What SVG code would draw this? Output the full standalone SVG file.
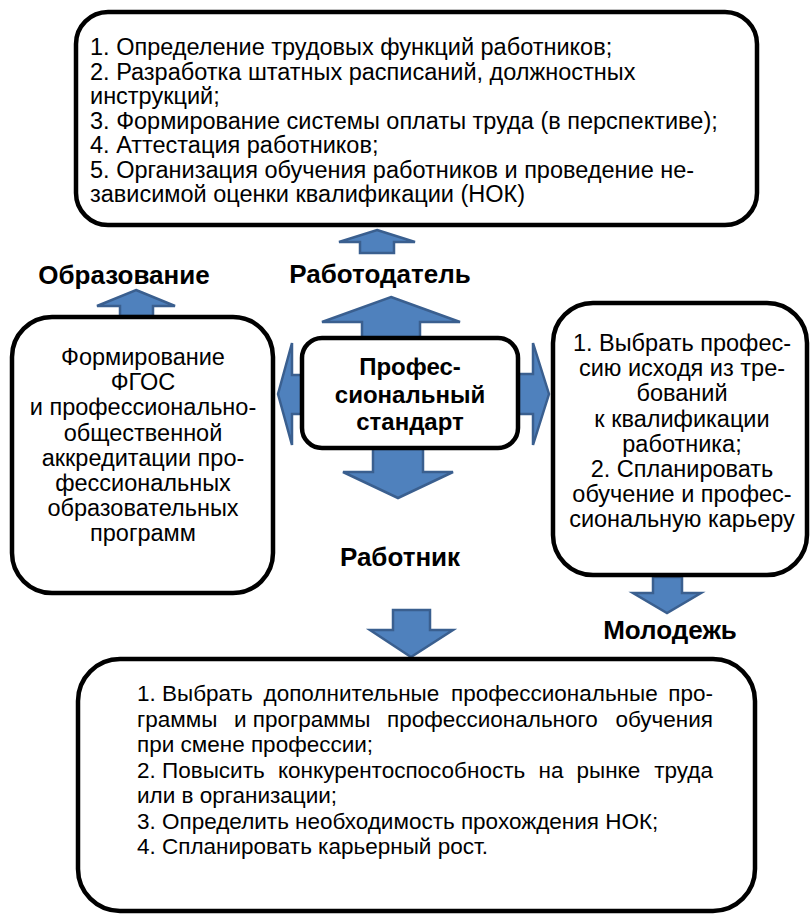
<svg xmlns="http://www.w3.org/2000/svg" width="811" height="916" viewBox="0 0 811 916">
<style>
.box{fill:#fff;stroke:#000;stroke-width:4.5}
.arr{fill:#4F81BD;stroke:#3A5F8F;stroke-width:2.5;stroke-linejoin:miter}
text{font-family:"Liberation Sans",Arial,sans-serif;fill:#000}
.t{font-size:23.5px}
.tb{font-size:22.5px}
.c{text-anchor:middle}
.e{text-anchor:end}
.lbl{font-size:26px;font-weight:bold;text-anchor:middle}
.ctr{font-size:24px;font-weight:bold;text-anchor:middle}
</style>
<rect width="811" height="916" fill="#fff"/>
<g id="connectors">
<polygon class="arr" points="377,230 415,242 394,242 394,253 360,253 360,242 339,242"/>
<polygon class="arr" points="136,290 175,306 153,306 153,316 120,316 120,306 97,306"/>
<polygon class="arr" points="391,297 460,322 420,322 420,338 362,338 362,322 322,322"/>
<polygon class="arr" points="373,448 423,448 423,472 453,472 398,498 343,472 373,472"/>
<polygon class="arr" points="278,394 292,343 292,375 302,375 302,414 292,414 292,445"/>
<polygon class="arr" points="549,394 533,343 533,374 518,374 518,414 533,414 533,445"/>
<polygon class="arr" points="393,610 430,610 430,630 453,630 411,657 370,630 393,630"/>
<polygon class="arr" points="653,577 682,577 682,593 701,593 667,613 633,593 653,593"/>
</g>
<g id="employer-tasks">
<rect class="box" x="76" y="12" width="681" height="213" rx="32"/>
<text class="t" x="90" y="55">1. Определение трудовых функций работников;</text>
<text class="t" x="90" y="79.5">2. Разработка штатных расписаний, должностных</text>
<text class="t" x="90" y="104">инструкций;</text>
<text class="t" x="90" y="128.5">3. Формирование системы оплаты труда (в перспективе);</text>
<text class="t" x="90" y="153">4. Аттестация работников;</text>
<text class="t" x="90" y="177.5">5. Организация обучения работников и проведение не-</text>
<text class="t" x="90" y="202">зависимой оценки квалификации (НОК)</text>
</g>
<g id="label-education"><text class="lbl" x="124" y="284">Образование</text></g>
<g id="label-employer"><text class="lbl" x="380" y="283">Работодатель</text></g>
<g id="education-box">
<rect class="box" x="12" y="317" width="261" height="276" rx="40"/>
<text class="t c" x="143" y="365">Формирование</text>
<text class="t c" x="143" y="390.2">ФГОС</text>
<text class="t c" x="143" y="415.4">и профессионально-</text>
<text class="t c" x="143" y="440.6">общественной</text>
<text class="t c" x="143" y="465.8">аккредитации про-</text>
<text class="t c" x="143" y="491">фессиональных</text>
<text class="t c" x="143" y="516.2">образовательных</text>
<text class="t c" x="143" y="541.4">программ</text>
</g>
<g id="standard">
<rect class="box" x="302" y="338" width="216" height="110" rx="20"/>
<text class="ctr" x="410" y="375">Профес-</text>
<text class="ctr" x="410" y="403">сиональный</text>
<text class="ctr" x="410" y="430">стандарт</text>
</g>
<g id="youth-box">
<rect class="box" x="553" y="303" width="254" height="272" rx="40"/>
<text class="t c" x="682" y="351">1. Выбрать профес-</text>
<text class="t c" x="682" y="376.2">сию исходя из тре-</text>
<text class="t c" x="682" y="401.4">бований</text>
<text class="t c" x="682" y="426.6">к квалификации</text>
<text class="t c" x="682" y="451.8">работника;</text>
<text class="t c" x="682" y="477">2. Спланировать</text>
<text class="t c" x="682" y="502.2">обучение и профес-</text>
<text class="t c" x="682" y="527.4">сиональную карьеру</text>
</g>
<g id="label-worker"><text class="lbl" x="400" y="566">Работник</text></g>
<g id="label-youth"><text class="lbl" x="670" y="639">Молодежь</text></g>
<g id="worker-box">
<rect class="box" x="78" y="659" width="677" height="252" rx="42"/>
<text class="tb" x="137" y="701">1. Выбрать</text>
<text class="tb" x="263.5" y="701">дополнительные</text>
<text class="tb" x="451" y="701">профессиональные</text>
<text class="tb e" x="713" y="701">про-</text>
<text class="tb" x="137" y="726.5">граммы</text>
<text class="tb" x="234" y="726.5">и программы</text>
<text class="tb" x="387" y="726.5">профессионального</text>
<text class="tb e" x="713" y="726.5">обучения</text>
<text class="tb" x="137" y="752">при смене профессии;</text>
<text class="tb" x="137" y="777.5">2. Повысить</text>
<text class="tb" x="278" y="777.5">конкурентоспособность</text>
<text class="tb" x="538.5" y="777.5">на</text>
<text class="tb" x="576.5" y="777.5">рынке</text>
<text class="tb e" x="713" y="777.5">труда</text>
<text class="tb" x="137" y="803">или в организации;</text>
<text class="tb" x="137" y="828.5">3. Определить необходимость прохождения НОК;</text>
<text class="tb" x="137" y="854">4. Спланировать карьерный рост.</text>
</g>
</svg>
